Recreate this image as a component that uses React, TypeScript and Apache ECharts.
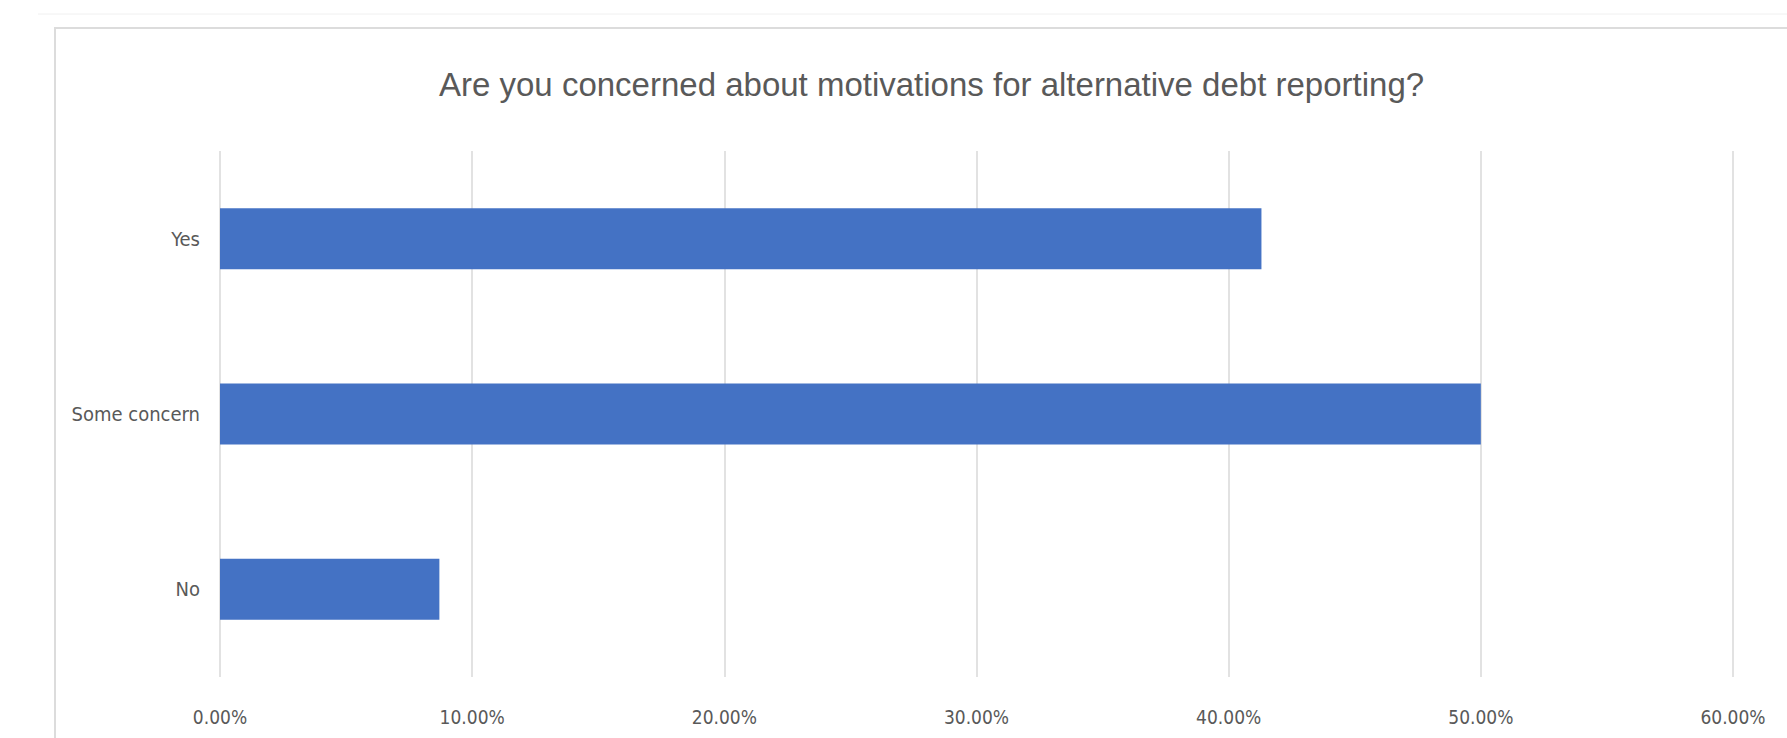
import React, { useEffect, useRef } from "react";
import * as echarts from "echarts";

const titleText = "Are you concerned about motivations for alternative debt reporting?";
const categories = ["Yes", "Some concern", "No"];
const values = [41.3, 50.0, 8.7];
const axisMin = 0;
const axisMax = 60;
const axisStep = 10;

const narrowFont = "'DejaVu Sans Condensed', 'Liberation Sans Narrow', 'Liberation Sans', sans-serif";
const textColor = "#595959";

export default function App() {
  const ref = useRef<HTMLDivElement>(null);
  useEffect(() => {
    if (!ref.current) return;
    const chart = echarts.init(ref.current, undefined, { renderer: "svg" });
    chart.setOption({
      animation: false,
      backgroundColor: "#ffffff",
      title: {
        text: titleText,
        left: 439,
        top: 68,
        padding: 0,
        textStyle: {
          fontFamily: "'Liberation Sans', Arial, sans-serif",
          fontSize: 33,
          fontWeight: "normal",
          color: textColor,
        },
      },
      graphic: [
        {
          type: "line",
          shape: { x1: 38, y1: 14, x2: 1787, y2: 14 },
          style: { stroke: "#f0f0f0", lineWidth: 1 },
          silent: true,
        },
        {
          type: "rect",
          shape: { x: 55, y: 28, width: 1800, height: 800 },
          style: { fill: "none", stroke: "#dcdcdc", lineWidth: 2 },
          silent: true,
          z: -1,
        },
      ],
      grid: {
        left: 220,
        right: 54,
        top: 151,
        bottom: 61,
        containLabel: false,
      },
      xAxis: {
        type: "value",
        min: axisMin,
        max: axisMax,
        interval: axisStep,
        axisLine: { show: false },
        axisTick: { show: false },
        splitLine: { show: true, lineStyle: { color: "#d9d9d9", width: 1.5 } },
        axisLabel: {
          margin: 30,
          fontFamily: narrowFont,
          fontSize: 19,
          color: textColor,
          formatter: (v: number) => v.toFixed(2) + "%",
        },
      },
      yAxis: {
        type: "category",
        data: categories,
        inverse: true,
        axisLine: { show: false },
        axisTick: { show: false },
        splitLine: { show: false },
        axisLabel: {
          margin: 20,
          fontFamily: narrowFont,
          fontSize: 20,
          color: textColor,
        },
      },
      series: [
        {
          type: "bar",
          data: values,
          barWidth: 61,
          itemStyle: { color: "#4472c4" },
        },
      ],
    });
    return () => chart.dispose();
  }, []);
  return (
    <div
      ref={ref}
      style={{ position: "absolute", left: 0, top: 0, width: 1787, height: 738 }}
    />
  );
}
